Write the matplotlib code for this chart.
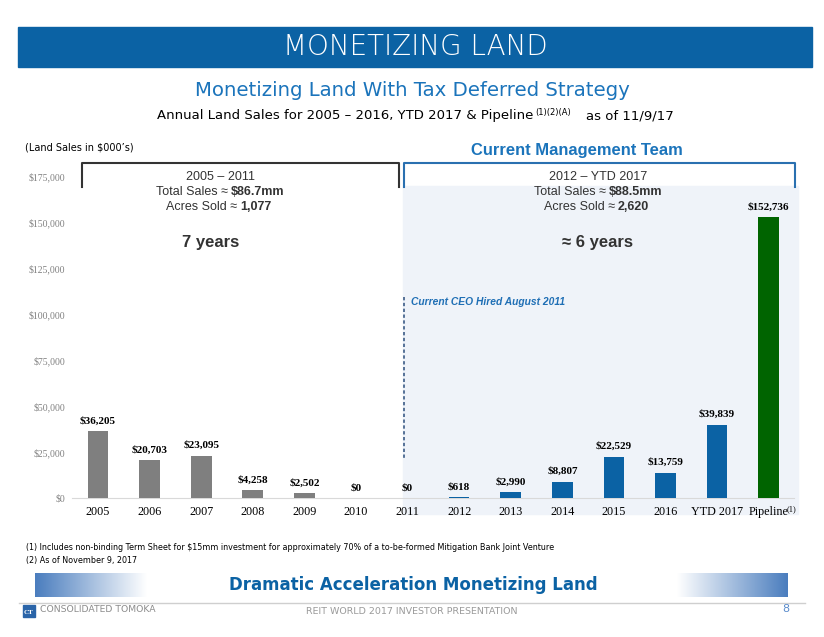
import numpy as np
import matplotlib
matplotlib.use("Agg")
import matplotlib.pyplot as plt
from matplotlib.patches import Rectangle
from matplotlib.lines import Line2D
from matplotlib.ticker import FuncFormatter

# chart data (land sales in $000's)
years = ["2005", "2006", "2007", "2008", "2009", "2010", "2011",
         "2012", "2013", "2014", "2015", "2016", "YTD 2017", "Pipeline"]
sales = [36205, 20703, 23095, 4258, 2502, 0, 0,
         618, 2990, 8807, 22529, 13759, 39839, 152736]
bar_colors = ["#7f7f7f"] * 7 + ["#0b62a4"] * 6 + ["#006400"]
y_ticks = [0, 25000, 50000, 75000, 100000, 125000, 150000, 175000]

W, H = 824, 637
SANS = ["Liberation Sans", "DejaVu Sans"]
SERIF = ["Liberation Serif", "DejaVu Serif"]
SLIDE = ["DejaVu Sans"]
BLUE = "#0b62a4"
LBLUE = "#1b74bb"


# pixel -> figure fraction
def fx(x):
    return x / W


def fy(y):
    return 1 - y / H


fig = plt.figure(figsize=(W / 100, H / 100), dpi=100)

# top banner
fig.patches.append(Rectangle((fx(18), fy(67)), fx(812) - fx(18), fy(27) - fy(67),
                             transform=fig.transFigure, color=BLUE, zorder=0))
fig.text(fx(415), fy(47), "MONETIZING LAND", color="white", fontsize=20,
         family=SLIDE, fontweight="light", ha="center", va="center")
fig.text(fx(412), fy(90), "Monetizing Land With Tax Deferred Strategy",
         color=LBLUE, fontsize=14.2, family=SLIDE, ha="center", va="center")
fig.text(fx(533), fy(116), "Annual Land Sales for 2005 \u2013 2016, YTD 2017 & Pipeline",
         fontsize=9.5, family=SLIDE, ha="right", va="center")
fig.text(fx(535), fy(112), "(1)(2)(A)", fontsize=6, family=SLIDE, ha="left", va="center")
fig.text(fx(586), fy(116), "as of 11/9/17", fontsize=9.5, family=SLIDE, ha="left", va="center")
fig.text(fx(25), fy(147), "(Land Sales in $000\u2019s)", fontsize=7, family=SLIDE,
         ha="left", va="center")

# shaded region for current management
fig.patches.append(Rectangle((fx(403), fy(514)), fx(798) - fx(403), fy(186) - fy(514),
                             transform=fig.transFigure, color="#eff3f9", zorder=0))

# brackets
for x0, x1, col in [(82, 399, "#333333"), (404, 795, "#2a70b0")]:
    fig.add_artist(Line2D([fx(x0), fx(x0), fx(x1), fx(x1)],
                          [fy(187), fy(163), fy(163), fy(187)],
                          transform=fig.transFigure, color=col, lw=1.5))

fig.text(fx(577), fy(150), "Current Management Team", color=LBLUE, fontsize=11.9,
         family=SANS, fontweight="bold", ha="center", va="center")

# bracket texts
for cx, period, total, acres, span, sx in [
        (220, "2005 \u2013 2011", "$86.7mm", "1,077", "7 years", 211),
        (598, "2012 \u2013 YTD 2017", "$88.5mm", "2,620", "\u2248 6 years", 598)]:
    fig.text(fx(cx), fy(177), period, fontsize=9, family=SANS, color="#333333",
             ha="center", va="center")
    fig.text(fx(cx + 8), fy(192), "Total Sales \u2248", fontsize=9, family=SANS,
             color="#333333", ha="right", va="center")
    fig.text(fx(cx + 11), fy(192), total, fontsize=9, family=SANS, color="#333333",
             fontweight="bold", ha="left", va="center")
    fig.text(fx(cx + 17), fy(207), "Acres Sold \u2248", fontsize=9, family=SANS,
             color="#333333", ha="right", va="center")
    fig.text(fx(cx + 20), fy(207), acres, fontsize=9, family=SANS, color="#333333",
             fontweight="bold", ha="left", va="center")
    fig.text(fx(sx), fy(243), span, fontsize=12, family=SANS, color="#333333",
             fontweight="bold", ha="center", va="center")

# CEO line
fig.add_artist(Line2D([fx(404), fx(404)], [fy(297), fy(458)], transform=fig.transFigure,
                      color="#3b5b86", lw=1.2, ls=(0, (2, 1.5)), zorder=3))
fig.text(fx(411), fy(302), "Current CEO Hired August 2011", color="#1f6fb5", fontsize=7.4,
         family=SANS, fontweight="bold", style="italic", ha="left", va="center")

# bar chart
ax = fig.add_axes([fx(72.2), fy(498), fx(794.5) - fx(72.2), fy(176) - fy(498)])
ax.set_zorder(2)
ax.patch.set_alpha(0)
x = np.arange(len(years))
bars = ax.bar(x, sales, width=0.4, color=bar_colors, zorder=3)
ax.set_xlim(-0.5, 13.5)
ax.set_ylim(0, 175000)
ax.set_yticks(y_ticks)
ax.yaxis.set_major_formatter(FuncFormatter(lambda v, p: f"${v:,.0f}"))
ax.set_xticks(x)
ax.set_xticklabels(years)
for s in ["top", "right", "left"]:
    ax.spines[s].set_visible(False)
ax.spines["bottom"].set_color("#d9d9d9")
ax.tick_params(axis="both", length=0)
ax.tick_params(axis="y", labelsize=7, labelcolor="#808080", pad=5)
ax.tick_params(axis="x", labelsize=8.7, pad=6)
for lab in ax.get_xticklabels() + ax.get_yticklabels():
    lab.set_family(SERIF)
for xi, v in zip(x, sales):
    ax.annotate(f"${v:,}", (xi, v), xytext=(0, 4), textcoords="offset points",
                ha="center", va="bottom", fontsize=8, fontweight="bold", family=SERIF)
ax.annotate("(1)", xy=(13, 0), xycoords=("data", "axes fraction"), xytext=(13.2, -8),
            textcoords="offset points", fontsize=6, family=SERIF, ha="left", va="center")

# footnotes
fig.text(fx(26), fy(548), "(1) Includes non-binding Term Sheet for $15mm investment for "
         "approximately 70% of a to-be-formed Mitigation Bank Joint Venture",
         fontsize=5.8, family=SLIDE, ha="left", va="center")
fig.text(fx(26), fy(560), "(2) As of November 9, 2017", fontsize=5.8, family=SLIDE,
         ha="left", va="center")

# bottom banner with gradient boxes
grad = np.linspace(0, 1, 256).reshape(1, -1)
cmap = matplotlib.colors.LinearSegmentedColormap.from_list("g", ["#4a7dbe", "#ffffff"])
for x0, x1, g in [(35, 147, grad), (677, 788, grad[:, ::-1])]:
    gax = fig.add_axes([fx(x0), fy(597), fx(x1) - fx(x0), fy(573) - fy(597)])
    gax.imshow(g, aspect="auto", cmap=cmap, vmin=0, vmax=1)
    gax.axis("off")
fig.text(fx(413), fy(585), "Dramatic Acceleration Monetizing Land", color=BLUE,
         fontsize=12, family=SLIDE, fontweight="bold", ha="center", va="center")

# footer
fig.add_artist(Line2D([fx(19), fx(805)], [fy(603), fy(603)], transform=fig.transFigure,
                      color="#cfcfcf", lw=1))
fig.patches.append(Rectangle((fx(23), fy(617)), fx(35) - fx(23), fy(605) - fy(617),
                             transform=fig.transFigure, color="#2a64a8"))
fig.text(fx(29), fy(612), "CT", color="white", fontsize=5, family=SERIF,
         fontweight="bold", ha="center", va="center")
fig.text(fx(40), fy(610), "CONSOLIDATED TOMOKA", color="#8c8c8c", fontsize=6.7,
         family=SLIDE, ha="left", va="center")
fig.text(fx(412), fy(611), "REIT WORLD 2017 INVESTOR PRESENTATION", color="#9a9a9a",
         fontsize=6.8, family=SLIDE, ha="center", va="center")
fig.text(fx(786), fy(609), "8", color="#5b8ccc", fontsize=8, family=SLIDE,
         ha="center", va="center")

fig.savefig("out.png", dpi=100)
